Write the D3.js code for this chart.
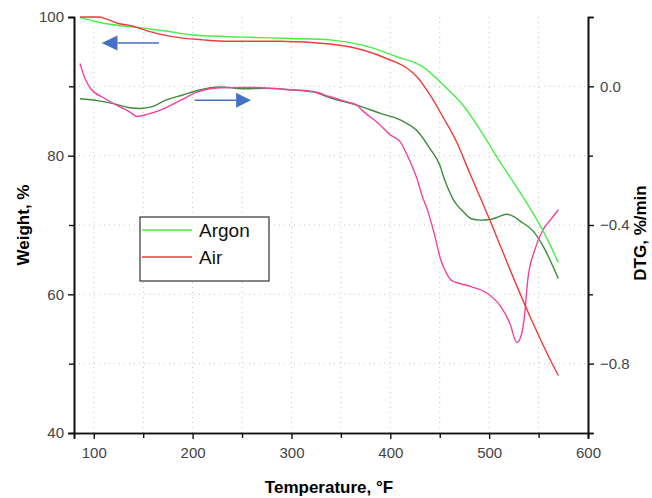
<!DOCTYPE html>
<html>
<head>
<meta charset="utf-8">
<script src="https://cdn.jsdelivr.net/npm/d3@7"></script>
<style>
  body { margin: 0; background: #fff; }
  svg { display: block; font-family: "Liberation Sans", Arial, sans-serif; }
</style>
</head>
<body>
<div id="chart"></div>
<script>
// ---- data (temperature in °F) ----
const argonWeight = [
  [86, 99.9], [110, 99.1], [150, 98.4], [176, 97.9], [200, 97.4], [250, 97.1],
  [300, 96.9], [339, 96.7], [373, 95.9], [406, 94.3], [433, 92.8], [455, 90.0],
  [474, 87.2], [491, 83.7], [511, 79.1], [523, 76.5], [544, 71.8], [554, 69.3],
  [570, 64.6]
];
const airWeight = [
  [86, 100], [105, 100], [113, 99.7], [124, 99.1], [139, 98.7], [154, 98.0],
  [178, 97.2], [211, 96.7], [235, 96.5], [288, 96.5], [339, 96.1], [373, 95.2],
  [400, 93.8], [417, 92.6], [428, 91.2], [440, 88.8], [454, 85.4], [467, 82.0],
  [480, 77.6], [501, 70.6], [521, 63.6], [541, 56.9], [562, 50.5], [570, 48.3]
];
const argonDTG = [
  [86, -0.036], [105, -0.042], [120, -0.050], [135, -0.061], [147, -0.064],
  [160, -0.058], [171, -0.042], [190, -0.025], [205, -0.012], [228, -0.002],
  [251, -0.007], [275, -0.006], [299, -0.010], [322, -0.016], [339, -0.033],
  [366, -0.054], [390, -0.078], [410, -0.097], [428, -0.131], [440, -0.179],
  [450, -0.227], [455, -0.270], [460, -0.305], [464, -0.328], [474, -0.362],
  [482, -0.382], [491, -0.386], [501, -0.384], [510, -0.376], [518, -0.369],
  [525, -0.376], [531, -0.388], [545, -0.419], [555, -0.463], [570, -0.555]
];
const airDTG = [
  [86, 0.066], [92, 0.017], [97, -0.007], [110, -0.033], [127, -0.060],
  [137, -0.075], [144, -0.087], [154, -0.081], [171, -0.064], [188, -0.040],
  [205, -0.016], [228, -0.004], [250, -0.003], [271, -0.004], [299, -0.010],
  [322, -0.015], [339, -0.030], [356, -0.045], [366, -0.054], [373, -0.073],
  [386, -0.102], [400, -0.140], [410, -0.160], [420, -0.217], [428, -0.275],
  [432, -0.314], [438, -0.360], [444, -0.420], [451, -0.500], [458, -0.545],
  [462, -0.560], [481, -0.577], [498, -0.597], [511, -0.632], [521, -0.684],
  [528, -0.739], [533, -0.713], [536, -0.655], [539, -0.560], [546, -0.473],
  [554, -0.416], [563, -0.382], [570, -0.356]
];

const xTicks = [100, 200, 300, 400, 500, 600];
const weightTicks = [40, 60, 80, 100];
const dtgTicks = [-0.8, -0.4, 0.0];
const legendNames = ["Argon", "Air"];

// ---- layout ----
const width = 652, height = 498;
const plotL = 74, plotR = 588, plotT = 17, plotB = 433;

const x = d3.scaleLinear().domain([80, 600]).range([plotL, plotR]);
const yW = d3.scaleLinear().domain([40, 100]).range([plotB, plotT]);
const yD = d3.scaleLinear().domain([-1.0, 0.2]).range([plotB, plotT]);

const svg = d3.select("#chart").append("svg")
  .attr("width", width)
  .attr("height", height);

// grid
const grid = svg.append("g")
  .attr("stroke", "#c4c4c4")
  .attr("stroke-width", 1)
  .attr("stroke-dasharray", "1,4");

grid.selectAll(".vg")
  .data(d3.range(100, 600, 50))
  .enter().append("line")
  .attr("x1", d => x(d)).attr("x2", d => x(d))
  .attr("y1", plotT).attr("y2", plotB);

grid.selectAll(".hg")
  .data(d3.range(50, 100, 10))
  .enter().append("line")
  .attr("x1", plotL).attr("x2", plotR)
  .attr("y1", d => yW(d)).attr("y2", d => yW(d));

// axes
function styleAxis(g) {
  g.selectAll(".domain").attr("stroke", "#111").attr("stroke-width", 1.6);
  g.selectAll(".tick line").attr("stroke", "#111").attr("stroke-width", 1.4);
  g.selectAll("text").attr("fill", "#444").style("font-size", "15px");
}

// minor ticks first
svg.append("g")
  .attr("transform", `translate(0,${plotB})`)
  .call(d3.axisBottom(x).tickValues(d3.range(150, 600, 100)).tickSize(5).tickFormat(""))
  .call(styleAxis);
svg.append("g")
  .attr("transform", `translate(${plotL},0)`)
  .call(d3.axisLeft(yW).tickValues([50, 70, 90]).tickSize(5).tickFormat(""))
  .call(styleAxis);
svg.append("g")
  .attr("transform", `translate(${plotR},0)`)
  .call(d3.axisRight(yD).tickValues([-0.6, -0.2]).tickSize(5).tickFormat(""))
  .call(styleAxis);

svg.append("g")
  .attr("transform", `translate(0,${plotB})`)
  .call(d3.axisBottom(x).tickValues(xTicks).tickSize(6).tickPadding(8).tickFormat(d3.format("d")))
  .call(styleAxis);

svg.append("g")
  .attr("transform", `translate(${plotL},0)`)
  .call(d3.axisLeft(yW).tickValues(weightTicks).tickSize(6).tickPadding(4).tickFormat(d3.format("d")))
  .call(styleAxis);

svg.append("g")
  .attr("transform", `translate(${plotR},0)`)
  .call(d3.axisRight(yD).tickValues(dtgTicks).tickSize(6).tickPadding(6).tickFormat(d3.format(".1f")))
  .call(styleAxis);

// axis titles
svg.append("text")
  .attr("x", (plotL + plotR) / 2 - 2)
  .attr("y", 493)
  .attr("text-anchor", "middle")
  .style("font-size", "17px").style("font-weight", "bold")
  .text("Temperature, °F");

svg.append("text")
  .attr("transform", `translate(29,${(plotT + plotB) / 2}) rotate(-90)`)
  .attr("text-anchor", "middle")
  .style("font-size", "17px").style("font-weight", "bold")
  .text("Weight, %");

svg.append("text")
  .attr("transform", `translate(646,${(plotT + plotB) / 2 + 8}) rotate(-90)`)
  .attr("text-anchor", "middle")
  .style("font-size", "17px").style("font-weight", "bold")
  .text("DTG, %/min");

// curves
const lineW = d3.line().curve(d3.curveMonotoneX).x(d => x(d[0])).y(d => yW(d[1]));
const lineD = d3.line().curve(d3.curveMonotoneX).x(d => x(d[0])).y(d => yD(d[1]));

const series = [
  { data: argonDTG, gen: lineD, color: "#3b8c3b" },
  { data: airDTG, gen: lineD, color: "#f2449e" },
  { data: argonWeight, gen: lineW, color: "#48ee48" },
  { data: airWeight, gen: lineW, color: "#f03c3c" }
];

svg.selectAll(".curve")
  .data(series)
  .enter().append("path")
  .attr("class", "curve")
  .attr("d", d => d.gen(d.data))
  .attr("fill", "none")
  .attr("stroke", d => d.color)
  .attr("stroke-width", 1.4);

// arrows (left = weight axis, right = DTG axis)
const arrowColor = "#4472c4";
function arrow(x0, x1, xt, yy) {
  svg.append("line")
    .attr("x1", x0).attr("x2", x1).attr("y1", yy).attr("y2", yy)
    .attr("stroke", arrowColor).attr("stroke-width", 1.6);
  svg.append("path")
    .attr("d", `M${x1},${yy - 7.5}L${xt},${yy}L${x1},${yy + 7.5}Z`)
    .attr("fill", arrowColor);
}
arrow(x(166), x(124), x(108), yW(96.25));
arrow(x(202), x(244), x(259), yD(-0.040));

// legend
const legend = svg.append("g").attr("transform", "translate(140,217)");
legend.append("rect")
  .attr("width", 129).attr("height", 64)
  .attr("fill", "#fff").attr("stroke", "#333").attr("stroke-width", 1.2);

const legendColors = ["#48ee48", "#f03c3c"];
legendNames.forEach((name, i) => {
  const ly = 13 + i * 27;
  legend.append("line")
    .attr("x1", 2).attr("x2", 52).attr("y1", ly).attr("y2", ly)
    .attr("stroke", legendColors[i]).attr("stroke-width", 1.6);
  legend.append("text")
    .attr("x", 59).attr("y", ly + 7)
    .style("font-size", "19px").attr("fill", "#111")
    .text(name);
});
</script>
</body>
</html>
